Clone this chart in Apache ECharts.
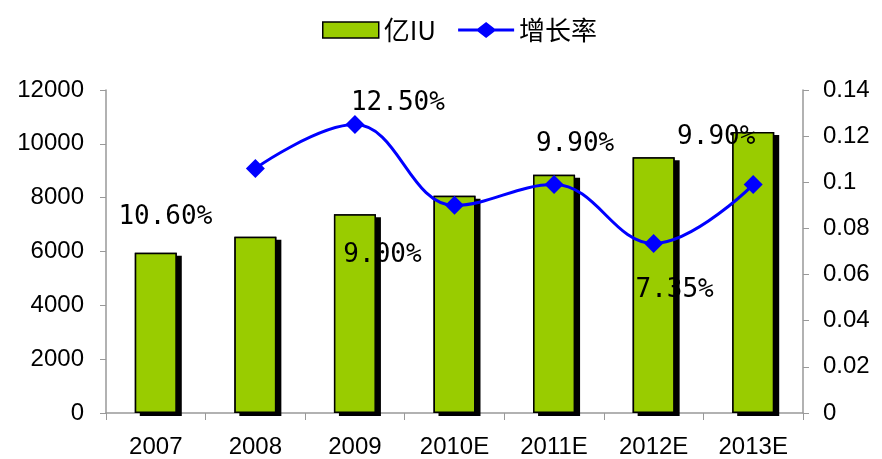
<!DOCTYPE html>
<html>
<head>
<meta charset="utf-8">
<script src="https://cdn.jsdelivr.net/npm/echarts@6/dist/echarts.min.js"></script>
<style>
  html, body { margin: 0; padding: 0; background: #fff; }
</style>
</head>
<body>
<div id="chart" style="width: 882px; height: 459px"></div>
<script>
const years = ['2007', '2008', '2009', '2010E', '2011E', '2012E', '2013E'];
const output = [5950, 6550, 7380, 8070, 8850, 9500, 10440];
const growth = [null, 0.106, 0.125, 0.09, 0.099, 0.0735, 0.099];
// where each growth label sits relative to its point
const labelOffsets = [[0, 0], [-90, 49], [43, -21], [-72, 50], [21, -40], [21, 47], [-37, -47]];

const chart = echarts.init(document.getElementById('chart'));

const axisFont = {
  fontFamily: 'Liberation Sans, Arial, sans-serif',
  fontSize: 24,
  color: '#000'
};

const option = {
  animation: false,
  grid: {
    left: 106,
    right: 79,
    top: 90,
    bottom: 46
  },
  legend: {
    left: 317,
    top: 12,
    itemWidth: 56,
    itemHeight: 16,
    itemGap: 22,
    textStyle: {
      fontFamily: 'Noto Sans CJK SC, sans-serif',
      fontSize: 26,
      color: '#000'
    },
    data: [
      {
        name: '亿IU',
        icon: 'rect',
        itemStyle: {
          color: '#99CC00',
          borderColor: '#000',
          borderWidth: 1.5
        }
      },
      {
        name: '增长率',
        // line with a diamond on it
        icon: 'path://M0,7 L21,7 L30,0 L39,7 L60,7 L60,10 L39,10 L30,17 L21,10 L0,10 Z',
        itemStyle: {color: '#0000FF', borderWidth: 0}
      }
    ]
  },
  xAxis: {
    type: 'category',
    data: years,
    axisLine: {lineStyle: {color: '#999', width: 1.5}},
    axisTick: {show: true, length: 7, lineStyle: {color: '#999'}},
    axisLabel: Object.assign({margin: 22}, axisFont)
  },
  yAxis: [
    {
      type: 'value',
      min: 0,
      max: 12000,
      interval: 2000,
      axisLine: {show: true, lineStyle: {color: '#999', width: 1.5}},
      axisTick: {show: true, length: 6, lineStyle: {color: '#999'}},
      splitLine: {show: false},
      axisLabel: Object.assign({
        margin: 22,
        formatter: function (v) { return String(v); }
      }, axisFont)
    },
    {
      type: 'value',
      min: 0,
      max: 0.14,
      interval: 0.02,
      axisLine: {show: true, lineStyle: {color: '#999', width: 1.5}},
      axisTick: {show: true, length: 6, lineStyle: {color: '#999'}},
      splitLine: {show: false},
      axisLabel: Object.assign({margin: 20}, axisFont)
    }
  ],
  series: [
    {
      // black drop shadow behind each bar
      name: 'shadow',
      type: 'bar',
      barWidth: 42,
      data: output,
      silent: true,
      itemStyle: {
        color: '#000',
        shadowColor: '#000',
        shadowBlur: 0,
        shadowOffsetX: 5,
        shadowOffsetY: 3
      }
    },
    {
      name: '亿IU',
      type: 'bar',
      barWidth: 42,
      barGap: '-100%',
      data: output,
      itemStyle: {
        color: '#99CC00',
        borderColor: '#000',
        borderWidth: 1.5
      }
    },
    {
      name: '增长率',
      type: 'line',
      yAxisIndex: 1,
      smooth: 0.4,
      symbol: 'diamond',
      symbolSize: 19,
      lineStyle: {color: '#0000FF', width: 3},
      itemStyle: {color: '#0000FF'},
      label: {
        show: true,
        position: 'inside',
        fontFamily: 'DejaVu Sans Mono, monospace',
        fontSize: 26,
        color: '#000',
        formatter: function (p) {
          return (p.value * 100).toFixed(2) + '%';
        }
      },
      data: growth.map(function (v, i) {
        return {value: v, label: {offset: labelOffsets[i]}};
      }),
      z: 3
    }
  ]
};
chart.setOption(option);
</script>
</body>
</html>
